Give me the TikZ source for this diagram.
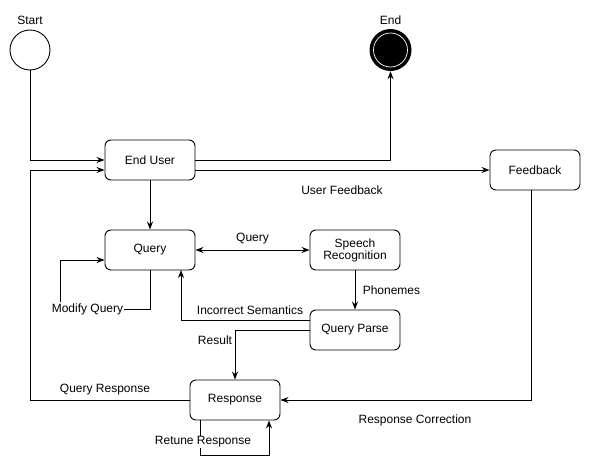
\documentclass[tikz,border=0pt]{standalone}
\usepackage{fontspec}
\setmainfont{Liberation Sans}
\usetikzlibrary{arrows.meta}
\begin{document}
\begin{tikzpicture}[x=1pt,y=-1pt,
  box/.style={draw,rounded corners=6pt,minimum width=90pt,minimum height=40pt,align=center,line width=0.9pt},
  conn/.style={line width=0.9pt,-{Stealth[length=8pt,width=6pt]}},
  every node/.style={font=\fontsize{12}{14}\selectfont}]
\useasboundingbox (0,0) rectangle (591,474);
\node[draw,circle,minimum size=40pt,inner sep=0pt,line width=0.9pt] (start) at (30,50) {};
\node (startl) at (30,20) {Start};
\node[circle,fill=black,minimum size=42pt,inner sep=0pt] (end) at (390.5,50) {};
\draw[white,line width=0.7pt] (end.center) circle (17pt);
\node (endl) at (390.5,20) {End};
\node[box] (eu) at (150,160) {End User};
\node[box] (fb) at (535,170) {Feedback};
\node[box] (q) at (150,250) {Query};
\node[box] (sr) at (355,250) {Speech\\[-2pt]Recognition};
\node[box] (qp) at (355,330) {Query Parse};
\node[box] (resp) at (235,400) {Response};
\draw[conn] (start.south) |- (eu.west);
\draw[conn] (eu.east) -| (end.south);
\draw[conn] (eu.east |- 0,170) -- (fb.west);
\node (ufl) at (342,190) {User Feedback};
\draw[conn] (eu.south) -- (q.north);
\draw[line width=0.9pt,{Stealth[length=8pt,width=6pt]}-{Stealth[length=8pt,width=6pt]}] (q.east) -- node[above=2pt] {Query} (sr.west);
\draw[conn] (sr.south) -- node[right=4pt] {Phonemes} (qp.north);
\draw[conn] (qp.west |- 0,320) -- (181,320) -- (181,270);
\node (isl) at (250,310) {Incorrect Semantics};
\draw[conn] (qp.west) -- (235,330) -- (resp.north);
\node (rl) at (215,340) {Result};
\draw[conn] (q.south) -- (150,309) -- (60,309) -- (60,260) -- (q.west |- 0,260);
\node[fill=white,inner sep=1pt] (mql) at (87.5,309) {Modify Query};
\draw[conn] (resp.west) -- (30,400) -- (30,170) -- (eu.west |- 0,170);
\node (qrl) at (105,390) {Query Response};
\draw[conn] (resp.south -| 200,0) -- (200,455) -- (269,455) -- (resp.south -| 269,0);
\node[fill=white,inner sep=1pt] (rrl) at (203,442) {Retune Response};
\draw[conn] (fb.south -| 531,0) -- (531,400) -- (resp.east);
\node (rcl) at (415,420) {Response Correction};
\end{tikzpicture}
\end{document}
